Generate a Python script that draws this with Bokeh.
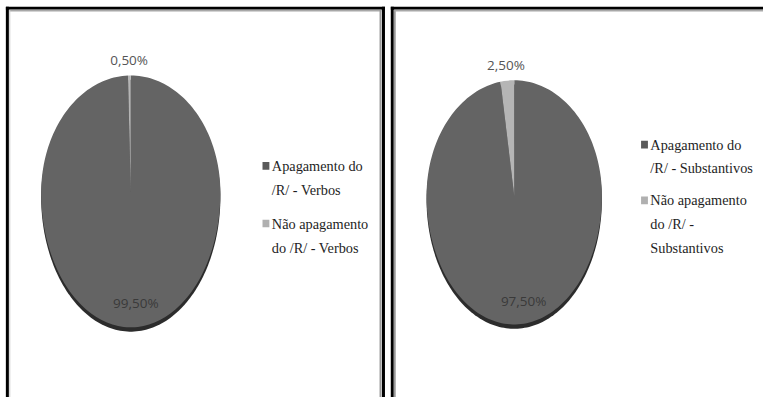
import numpy as np
from bokeh.plotting import figure
from bokeh.models import Range1d
from bokeh.core.properties import value
from bokeh.embed import file_html
from bokeh.resources import INLINE

# ---- data ----
verbos_labels = ["Apagamento do\n/R/ - Verbos", "Não apagamento\ndo /R/ - Verbos"]
verbos_values = [99.5, 0.5]
subst_labels = ["Apagamento do\n/R/ - Substantivos", "Não apagamento\ndo /R/ -\nSubstantivos"]
subst_values = [97.5, 2.5]
pct_text_verbos = ["99,50%", "0,50%"]
pct_text_subst = ["97,50%", "2,50%"]

# ---- style ----
SLICE_COLORS = ["#646464", "#b5b5b5"]
MARKER_COLORS = ["#5a5a5a", "#b0b0b0"]
RIM_COLOR = "#2c2c2c"
SERIF = value("Liberation Serif")
SANS = value("Open Sans")

# canvas covers the whole 779x413 reference space
REF_W, REF_H = 779, 413
W, H = 763, 397
p = figure(width=W, height=H, output_backend="svg", toolbar_location=None,
           x_range=Range1d(0, REF_W), y_range=Range1d(REF_H, 0),
           x_axis_location=None, y_axis_location=None, min_border=0)
p.xgrid.visible = False
p.ygrid.visible = False
p.outline_line_color = None
p.background_fill_color = "white"
p.border_fill_color = "white"

# ---- panel frames ----
# left panel
p.line([7, 7], [6.5, 413], line_color="black", line_width=3)
p.line([5.5, 392.5], [8, 8], line_color="black", line_width=3)
p.line([391, 391], [6.5, 413], line_color="black", line_width=3)
p.line([9, 389], [10.5, 10.5], line_color="#a8a8a8", line_width=2)
p.line([9.5, 9.5], [10, 413], line_color="#cccccc", line_width=1)
p.line([388, 388], [10, 413], line_color="#9a9a9a", line_width=2)
# right panel
p.line([400, 400], [6.5, 413], line_color="black", line_width=3)
p.line([398.5, 779], [8, 8], line_color="black", line_width=3)
p.line([402.5, 402.5], [10, 413], line_color="#9a9a9a", line_width=2)
p.line([402, 779], [10.5, 10.5], line_color="#a8a8a8", line_width=2)


def boundary(cx, cy, rx, ry_top, ry_bot, theta, dy=0.0):
    c = np.cos(theta)
    ry = np.where(c > 0, ry_top, ry_bot)
    return cx + rx * np.sin(theta), cy - ry * c + dy


def draw_pie(values, texts, cx, cy, rx, ry_top, ry_bot):
    # 3D rim below the face
    t = np.linspace(0, 2 * np.pi, 240)
    bx, by = boundary(cx, cy, rx, ry_top, ry_bot, t, dy=4.5)
    p.patch(bx, by, fill_color=RIM_COLOR, line_color=None)
    total = float(sum(values))
    start = 0.0
    xs, ys, mids = [], [], []
    for v in values:
        end = start + 2 * np.pi * v / total
        n = max(3, int(200 * v / total))
        tt = np.linspace(start, end, n)
        px, py = boundary(cx, cy, rx, ry_top, ry_bot, tt)
        xs.append(np.concatenate([[cx], px, [cx]]))
        ys.append(np.concatenate([[cy], py, [cy]]))
        mids.append((start + end) / 2)
        start = end
    p.patches(xs, ys, fill_color=SLICE_COLORS, line_color=None)
    # data labels: biggest slice inside, small slice outside
    m0 = mids[0]
    lx0 = cx + rx * np.sin(m0) * 0.8 + 4
    ly0 = cy - (ry_bot if np.cos(m0) < 0 else ry_top) * np.cos(m0) * 0.82
    p.text(x=[lx0], y=[ly0], text=[texts[0]], text_font=SANS, text_font_size="13.5px",
           text_align="center", text_baseline="middle", text_color="#3a3a3a")
    m1 = mids[1]
    lx1 = cx + rx * np.sin(m1) * 1.2
    ly1 = cy - (ry_top + 16) * np.cos(m1)
    p.text(x=[lx1], y=[ly1], text=[texts[1]], text_font=SANS, text_font_size="13.5px",
           text_align="center", text_baseline="middle", text_color="#555555")


def draw_legend(labels, x, y, entry_gap=10, line_h=25):
    cur = y
    for lab, col in zip(labels, MARKER_COLORS):
        lines = lab.split("\n")
        p.rect(x=[x], y=[cur], width=7, height=8, fill_color=col, line_color=None)
        p.text(x=[x + 6] * len(lines), y=[cur + i * line_h for i in range(len(lines))],
               text=lines, text_font=SERIF, text_font_size="14.3px",
               text_align="left", text_baseline="middle", text_color="#1e1e1e")
        cur += len(lines) * line_h + entry_gap


draw_pie(verbos_values, pct_text_verbos, 133, 200, 91.5, 122, 140)
draw_pie(subst_values, pct_text_subst, 524.5, 203, 89.5, 120, 134)

draw_legend(verbos_labels, 271, 172)
draw_legend(subst_labels, 657.5, 150, entry_gap=9, line_h=24.5)

open("out.html", "w").write(file_html(p, INLINE))
